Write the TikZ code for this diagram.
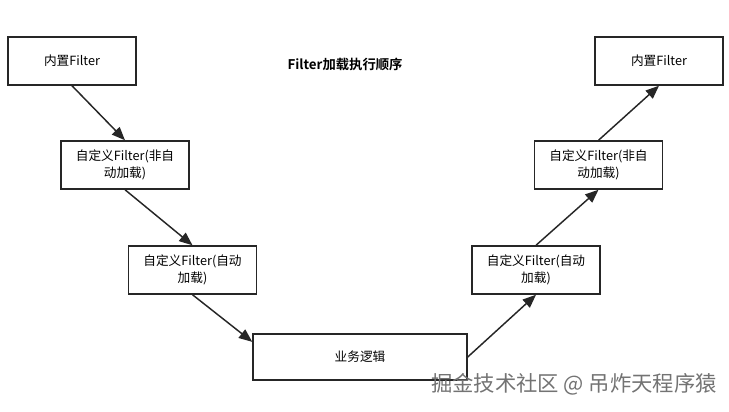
\documentclass[tikz,border=0pt]{standalone}
\usepackage{fontspec}
\setmainfont{Noto Sans CJK SC}[BoldFont={Noto Sans CJK SC Bold}]
\usetikzlibrary{arrows.meta}

\tikzset{
  box/.style={draw=black!85, line width=1.1pt, fill=white, minimum width=96pt, minimum height=36pt, align=center, font=\fontsize{9.5}{13}\selectfont, inner sep=2pt},
  flow/.style={draw=black!85, line width=1.1pt, -{Triangle[length=10pt,width=8pt]}}
}

\begin{document}
\begin{tikzpicture}[x=0.75pt, y=-0.75pt]
\useasboundingbox (0,0) rectangle (729,411);
\node[box] (inL) at (72,61) {内置Filter};
\node[box] (manualL) at (125,165) {自定义Filter(非自\\动加载)};
\node[box] (autoL) at (192.5,270) {自定义Filter(自动\\加载)};
\node[box, minimum width=160.5pt, minimum height=34.5pt] (biz) at (360,357) {业务逻辑};
\node[box] (autoR) at (536,270) {自定义Filter(自动\\加载)};
\node[box] (manualR) at (598.5,165) {自定义Filter(非自\\动加载)};
\node[box] (inR) at (659,61) {内置Filter};
\node[font=\bfseries\fontsize{10}{12}\selectfont] (title) at (345,64) {Filter加载执行顺序};

\draw[flow] (inL.south) -- (manualL.north);
\draw[flow] (manualL.south) -- (autoL.north);
\draw[flow] (autoL.south) -- (biz.172);
\draw[flow] (biz.east) -- (autoR.south);
\draw[flow] (autoR.north) -- (manualR.south);
\draw[flow] (manualR.north) -- (inR.south);

\node[font=\fontsize{16}{19}\selectfont, text=black!55] (mark) at (574,384) {掘金技术社区 @ 吊炸天程序猿};
\end{tikzpicture}
\end{document}
